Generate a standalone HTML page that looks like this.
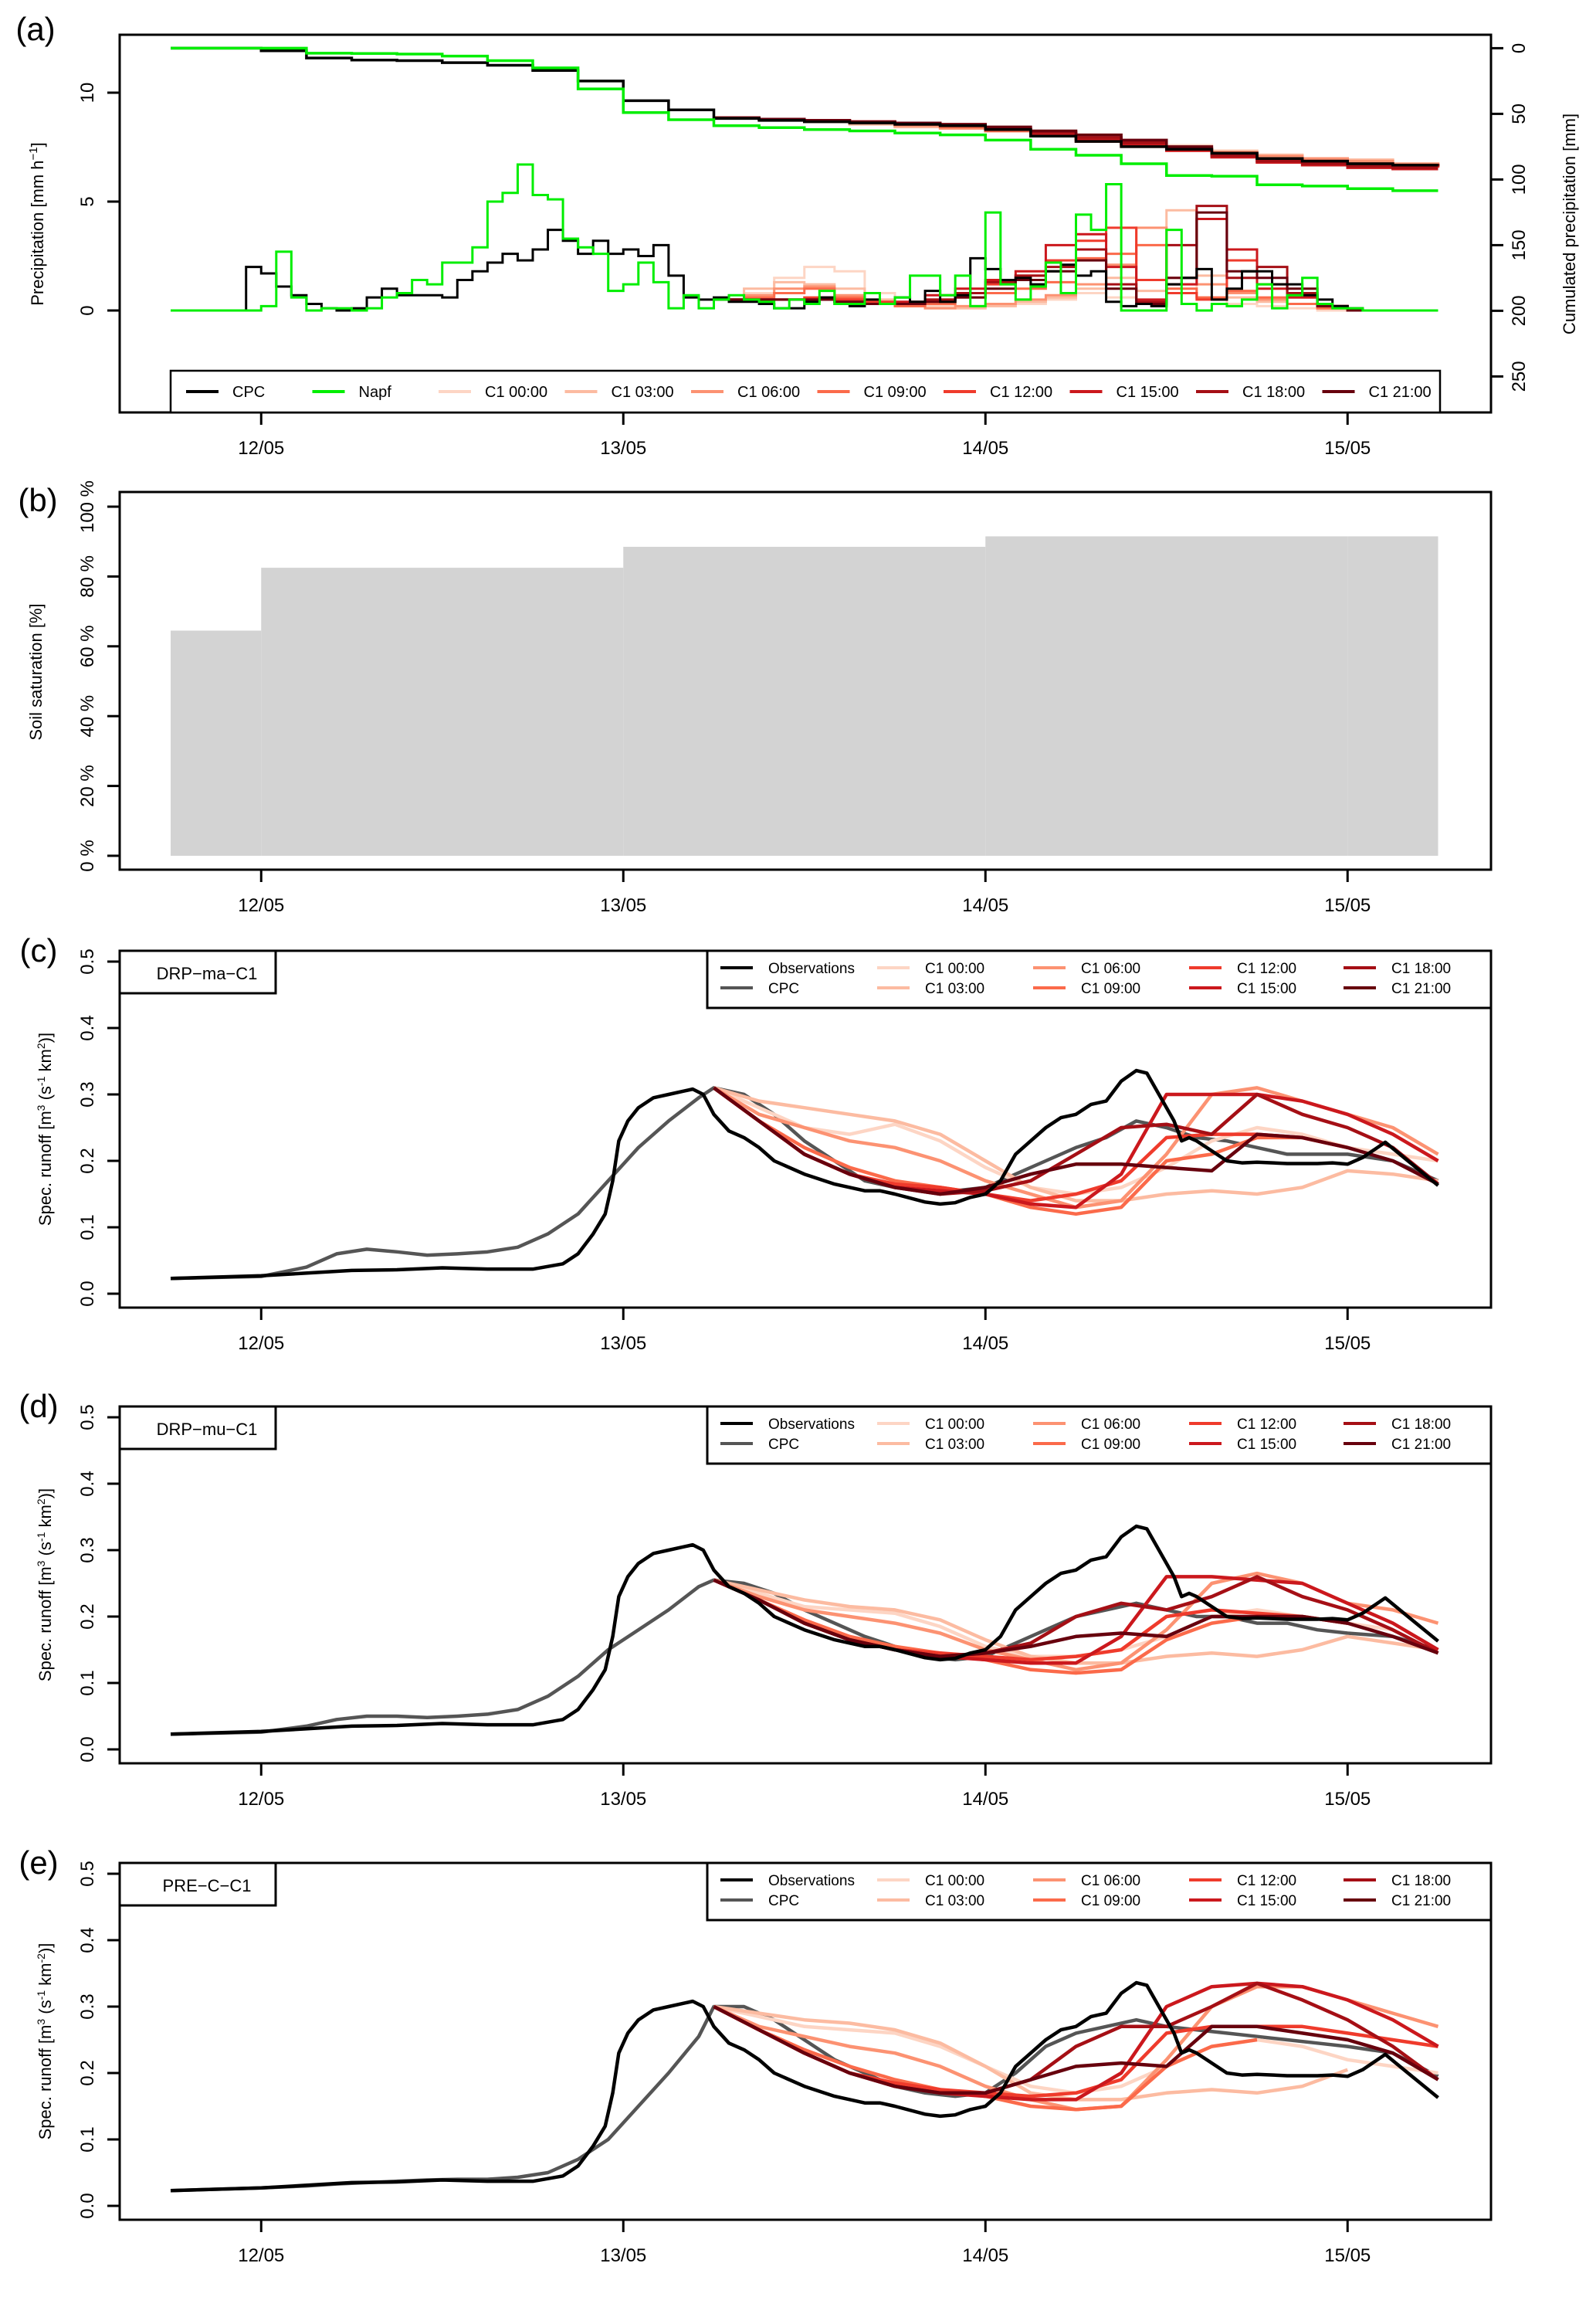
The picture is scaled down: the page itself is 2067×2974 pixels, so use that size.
<!DOCTYPE html>
<html><head><meta charset="utf-8"><title>Precipitation, soil saturation and runoff</title>
<style>html,body{margin:0;padding:0;background:#fff}svg{display:block}text{font-family:"Liberation Sans",sans-serif;fill:#000}</style>
</head><body>
<svg id="chart" xmlns="http://www.w3.org/2000/svg" width="2067" height="2974" viewBox="0 0 2067 2974"></svg>
<script>
// ===== DATA =====
const dayLabels = ["12/05","13/05","14/05","15/05"];
const seriesNames = ["C1 00:00","C1 03:00","C1 06:00","C1 09:00","C1 12:00","C1 15:00","C1 18:00","C1 21:00"];
const fcColors = ["#fdd5c4","#fcbba1","#fc9272","#fb6a4a","#ef3b2c","#cb181d","#a50f15","#67000d"];
// hourly precipitation [mm/h], hour 0 = 11/05 18:00
const cpcPrecip = [0,0,0,0,0,2.0,1.7,1.1,0.7,0.3,0.1,0,0.1,0.6,1.0,0.7,0.7,0.7,0.6,1.4,1.8,2.2,2.6,2.3,2.8,3.7,3.2,2.6,3.2,2.6,2.8,2.5,3.0,1.6,0.6,0.5,0.6,0.4,0.4,0.3,0.1,0.1,0.4,0.6,0.3,0.2,0.5,0.3,0.6,0.4,0.9,0.4,0.7,2.4,1.9,1.4,1.5,1.2,1.8,2.1,1.6,1.8,0.4,0.2,0.3,0.2,1.2,1.5,1.9,0.5,1.0,1.8,1.8,1.2,1.2,0.7,0.5,0.2,0.1,0,0,0,0,0];
const napfPrecip = [0,0,0,0,0,0,0.2,2.7,0.6,0,0.1,0.1,0,0.1,0.6,0.8,1.4,1.2,2.2,2.2,2.9,5.0,5.4,6.7,5.3,5.1,3.3,2.9,2.6,0.9,1.2,2.2,1.3,0.1,0.7,0.1,0.5,0.7,0.5,0.4,0.1,0.5,0.3,0.9,0.3,0.3,0.8,0.3,0.6,1.6,1.6,0.7,1.6,0.2,4.5,1.2,0.5,1.1,2.2,0.8,4.4,3.7,5.8,0,0,0,3.7,0.3,0,0.3,0.2,0.5,1.2,0.1,0.7,1.5,0.3,0.1,0.1,0,0,0,0,0];
// forecast precipitation, 2-hourly from hour 36
const fcPrecip = [
 [0.5,0.8,1.5,2.0,1.8,0.8,0.4,0.2,0.1,0.2,0.3,0.5,0.8,0.6,0.5,1.2,0.6,0.3,0.2,0.1,0,0],
 [0.5,1.0,1.3,1.2,1.0,0.5,0.3,0.1,0.1,0.2,0.4,0.6,1.0,1.5,0.9,4.6,1.6,0.6,0.4,0.3,0.1,0],
 [0.5,0.7,1.0,1.1,0.7,0.4,0.2,0.1,0.2,0.3,0.5,0.7,1.2,2.1,3.8,1.5,1.2,0.8,0.5,0.3,0.1,0],
 [0.5,0.6,0.8,1.0,0.6,0.3,0.2,0.3,0.6,0.8,1.0,1.3,2.4,2.6,3.0,1.0,0.6,0.9,0.6,0.3,0.1,0],
 [0.5,0.5,0.5,0.6,0.5,0.4,0.3,0.5,0.8,1.2,1.6,2.3,3.2,3.8,1.4,0.8,0.5,2.3,1.2,0.6,0.2,0],
 [0.5,0.5,0.5,0.5,0.4,0.3,0.4,0.7,1.0,1.4,1.8,3.0,3.5,2.0,0.5,1.2,4.2,2.8,1.0,0.6,0.2,0],
 [0.5,0.5,0.5,0.5,0.4,0.3,0.3,0.5,0.8,1.3,1.6,2.0,2.8,1.2,0.4,3.0,4.8,1.5,2.0,0.8,0.2,0],
 [0.5,0.5,0.5,0.5,0.4,0.3,0.3,0.4,0.6,1.0,1.4,1.8,2.3,1.0,0.3,1.5,4.5,1.8,1.5,1.0,0.2,0]
];
// cumulated precipitation [mm], 3-hourly from hour 0
const cpcCum = [0,0,2,7.5,9,9.5,11,13,17,25,40,47,53.5,55,56,57,58,59,62,67,71,75,77,80,84,86,88,89,89];
const napfCum = [0,0,0,3.8,4,4.5,6,9.5,15,31,49,54.5,59,60.5,62,63,64.6,66,70,77,81.5,88,97,97.5,104,105,107,108.5,108.5];
// forecast cumulated, 3-hourly from hour 36
const fcCum = [
 [53,54,55,56,57,58,60,63,66,70,74,78,81,84,86],
 [53,54,56,58,60,61,63,66,70,74,77,80,82,84,85,86],
 [53,54,55,57,59,61,63,66,69,73,76,79,82,84,86,88,89],
 [53,54,55,56,58,60,63,67,71,75,78,81,84,86,88,89,90],
 [53,54,55,56,57,59,62,66,70,74,77,81,84,87,89,90,91],
 [53,54,55,56,57,59,62,65,69,73,78,83,87,89,91,92,92],
 [53,54,55,56,57,58,61,64,68,72,77,82,86,88,90,91,91],
 [53,54,55,56,57,58,60,63,66,70,75,80,84,86,88,89,90]
];
// soil saturation [%]
const soilStartH = [0,6,30,54,78];
const soilEndH = [6,30,54,78,84];
const soilValues = [64.5,82.5,88.5,91.5,91.5];
// observed runoff (hour, value)
const obsT = [0,6,12,15,18,21,24,26,27,28,28.8,29.3,29.7,30.3,31,32,33,34,34.6,35.3,36,37,38,39,40,42,44,46,47,48,50,51,52,53,54,55,56,57,58,59,60,61,62,63,64,64.7,65.5,66.5,67,67.5,68,69,70,71,72,74,75,76,77,78,79,80.5,82,84];
const obsV = [0.023,0.027,0.035,0.036,0.039,0.037,0.037,0.045,0.06,0.09,0.12,0.17,0.23,0.26,0.28,0.295,0.30,0.305,0.308,0.30,0.27,0.245,0.235,0.22,0.20,0.18,0.165,0.155,0.155,0.15,0.138,0.135,0.137,0.145,0.15,0.17,0.21,0.23,0.25,0.265,0.27,0.285,0.29,0.32,0.336,0.332,0.30,0.26,0.23,0.235,0.23,0.215,0.20,0.197,0.198,0.196,0.196,0.196,0.197,0.195,0.205,0.228,0.20,0.163];
const cpcT = [0,6,9,11,13,15,17,19,21,23,25,27,29,31,33,35,36,38,40,42,44,46,48,50,52,54,56,58,60,62,64,66,68,70,72,74,76,78,81,84];
const cpcRunoffC = [0.023,0.026,0.04,0.06,0.067,0.063,0.058,0.06,0.063,0.07,0.09,0.12,0.17,0.22,0.26,0.295,0.31,0.30,0.27,0.23,0.20,0.17,0.16,0.155,0.155,0.16,0.18,0.2,0.22,0.235,0.26,0.25,0.235,0.23,0.22,0.21,0.21,0.21,0.2,0.17];
const cpcRunoffD = [0.023,0.026,0.035,0.045,0.05,0.05,0.048,0.05,0.053,0.06,0.08,0.11,0.15,0.18,0.21,0.245,0.255,0.25,0.235,0.21,0.19,0.17,0.155,0.14,0.135,0.14,0.16,0.18,0.2,0.21,0.22,0.21,0.2,0.2,0.19,0.19,0.18,0.175,0.17,0.15];
const cpcRunoffE = [0.023,0.027,0.03,0.033,0.035,0.037,0.039,0.04,0.04,0.043,0.05,0.07,0.1,0.15,0.2,0.255,0.3,0.3,0.28,0.25,0.22,0.2,0.18,0.17,0.165,0.17,0.2,0.24,0.26,0.27,0.28,0.27,0.265,0.26,0.255,0.25,0.245,0.24,0.23,0.195];
// forecast runoff, 3-hourly from hour 36
const fcRunoffC = [
 [0.31,0.28,0.25,0.24,0.255,0.23,0.19,0.16,0.15,0.16,0.19,0.23,0.25,0.24,0.22,0.21,0.2],
 [0.31,0.29,0.28,0.27,0.26,0.24,0.2,0.16,0.14,0.14,0.15,0.155,0.15,0.16,0.185,0.18,0.17],
 [0.31,0.27,0.25,0.23,0.22,0.2,0.17,0.15,0.13,0.14,0.21,0.3,0.31,0.29,0.27,0.25,0.21],
 [0.31,0.26,0.22,0.19,0.17,0.16,0.15,0.13,0.12,0.13,0.2,0.21,0.235,0.235,0.22],
 [0.31,0.26,0.21,0.18,0.165,0.16,0.15,0.14,0.15,0.17,0.235,0.24,0.24,0.235,0.22],
 [0.31,0.26,0.21,0.18,0.16,0.155,0.15,0.135,0.13,0.18,0.3,0.3,0.3,0.29,0.27,0.24,0.2],
 [0.31,0.26,0.21,0.18,0.16,0.15,0.155,0.17,0.21,0.25,0.255,0.24,0.3,0.27,0.25,0.22,0.165],
 [0.31,0.26,0.21,0.18,0.16,0.15,0.16,0.18,0.195,0.195,0.19,0.185,0.24,0.235,0.22,0.2,0.165]
];
const fcRunoffD = [
 [0.255,0.235,0.215,0.21,0.205,0.185,0.155,0.14,0.14,0.15,0.17,0.2,0.21,0.2,0.19,0.18],
 [0.255,0.24,0.225,0.215,0.21,0.195,0.165,0.14,0.13,0.13,0.14,0.145,0.14,0.15,0.17,0.16,0.15],
 [0.255,0.23,0.21,0.2,0.19,0.175,0.15,0.135,0.12,0.13,0.18,0.25,0.265,0.25,0.22,0.21,0.19],
 [0.255,0.225,0.195,0.17,0.155,0.145,0.135,0.12,0.115,0.12,0.165,0.19,0.2,0.2,0.19],
 [0.255,0.225,0.19,0.165,0.15,0.145,0.14,0.135,0.14,0.15,0.2,0.21,0.205,0.2,0.19],
 [0.255,0.225,0.19,0.165,0.15,0.14,0.135,0.13,0.13,0.17,0.26,0.26,0.255,0.25,0.22,0.19,0.15],
 [0.255,0.225,0.19,0.165,0.15,0.14,0.145,0.16,0.2,0.22,0.21,0.23,0.26,0.23,0.21,0.18,0.145],
 [0.255,0.225,0.19,0.165,0.15,0.14,0.145,0.155,0.17,0.175,0.17,0.2,0.2,0.2,0.19,0.17,0.145]
];
const fcRunoffE = [
 [0.30,0.285,0.27,0.265,0.26,0.24,0.21,0.18,0.17,0.18,0.21,0.24,0.25,0.24,0.22,0.21,0.20],
 [0.30,0.29,0.28,0.275,0.265,0.245,0.21,0.17,0.16,0.16,0.17,0.175,0.17,0.18,0.205],
 [0.30,0.27,0.255,0.24,0.23,0.21,0.18,0.16,0.145,0.15,0.22,0.30,0.33,0.33,0.31,0.29,0.27],
 [0.30,0.265,0.235,0.21,0.19,0.175,0.165,0.15,0.145,0.15,0.21,0.24,0.25],
 [0.30,0.265,0.23,0.2,0.185,0.175,0.17,0.165,0.17,0.19,0.26,0.27,0.27,0.27,0.26,0.25,0.24],
 [0.30,0.265,0.23,0.2,0.18,0.17,0.165,0.16,0.16,0.2,0.30,0.33,0.335,0.33,0.31,0.28,0.24],
 [0.30,0.265,0.23,0.2,0.18,0.17,0.17,0.19,0.24,0.27,0.27,0.30,0.335,0.31,0.28,0.24,0.19],
 [0.30,0.265,0.23,0.2,0.18,0.17,0.17,0.19,0.21,0.215,0.21,0.27,0.27,0.26,0.25,0.23,0.19]
];
const precipTicks = [0,5,10];
const cumTicks = [0,50,100,150,200,250];
const soilTicks = [0,20,40,60,80,100];
const runoffTicks = [0,0.1,0.2,0.3,0.4,0.5];

// ===== DRAWING =====
const NS = "http://www.w3.org/2000/svg";
const svg = document.getElementById("chart");
function mk(tag, attrs, parent, txt) {
  const e = document.createElementNS(NS, tag);
  for (const k in attrs) e.setAttribute(k, attrs[k]);
  if (txt !== undefined) e.textContent = txt;
  (parent || svg).appendChild(e);
  return e;
}
const X = h => 221 + h * 469 / 24;
const L = 155, R = 1931;

function frame(top, bottom, name) {
  const g = mk("g", {});
  
  
  const r = mk("rect", {x: L, y: top, width: R - L, height: bottom - top, fill: "none", stroke: "#000", "stroke-width": 3}, g);
  
  
  dayLabels.forEach((d, i) => {
    const x = X(6 + 24 * i);
    const t = mk("line", {x1: x, x2: x, y1: bottom, y2: bottom + 16, stroke: "#000", "stroke-width": 3}, g);
    
    
    const lb = mk("text", {x: x, y: bottom + 54, "font-size": 24, "text-anchor": "middle"}, g, d);
    
    
  });
  return g;
}
function yTicks(g, ticks, yf, fmt, side) {
  ticks.forEach(v => {
    const y = yf(v);
    const x1 = side === "right" ? R : L - 16, x2 = side === "right" ? R + 16 : L;
    const t = mk("line", {x1: x1, x2: x2, y1: y, y2: y, stroke: "#000", "stroke-width": 3}, g);
    
    
    const tx = side === "right" ? 1975 : 121;
    const lb = mk("text", {x: tx, y: y, "font-size": 24, "text-anchor": "middle", transform: `rotate(-90 ${tx} ${y})`}, g, fmt(v));
    
    
  });
}
function panelLabel(txt, x, y) {
  const t = mk("text", {x: x, y: y, "font-size": 42, "text-anchor": "middle"}, svg, txt);
  
  
}
function rotTitle(g, x, y, html, name) {
  const t = mk("text", {x: x, y: y, "font-size": 22, "text-anchor": "middle", transform: `rotate(-90 ${x} ${y})`}, g);
  t.innerHTML = html;
  
  
}
function stepPath(startH, stepH, vals, yf) {
  let d = "";
  vals.forEach((v, i) => {
    const x0 = X(startH + i * stepH), x1 = X(startH + (i + 1) * stepH), y = yf(v);
    d += (i === 0 ? `M${x0},${y}` : `L${x0},${y}`) + `L${x1},${y}`;
  });
  return d;
}
function cumPath(startH, stepH, vals, yf) {
  let d = "";
  vals.forEach((v, i) => {
    const x = X(startH + i * stepH), y = yf(v);
    if (i === 0) d += `M${x},${y}`;
    else d += `L${x},${yf(vals[i - 1])}L${x},${y}`;
  });
  return d;
}
function linePath(ts, vs, yf) {
  return vs.map((v, i) => (i ? "L" : "M") + X(ts[i]) + "," + yf(v)).join("");
}

// ---- Panel (a)
panelLabel("(a)", 46, 52);
const yP = v => 402 - 28.2 * v;
const yC = mm => 62.4 + 1.70 * mm;
const ga = frame(45, 534, "panel-a-precipitation");
yTicks(ga, precipTicks, yP, v => String(v), "left");
yTicks(ga, cumTicks, yC, v => String(v), "right");
rotTitle(ga, 56, 290, 'Precipitation [mm h<tspan baseline-shift="super" font-size="15">−1</tspan>]', "y-axis-title-left");
rotTitle(ga, 2040, 290, 'Cumulated precipitation [mm]', "y-axis-title-right");
// forecasts first (under observations)
fcPrecip.forEach((s, i) => {
  const p = mk("path", {d: stepPath(36, 2, s, yP), fill: "none", stroke: fcColors[i], "stroke-width": 3}, ga);
  
  
});
fcCum.forEach((s, i) => {
  const p = mk("path", {d: cumPath(36, 3, s, yC), fill: "none", stroke: fcColors[i], "stroke-width": 3.5}, ga);
  
  
});
[[cpcPrecip, "#000", "cpc-precip"], [napfPrecip, "#00ee00", "napf-precip"]].forEach(([s, c, n]) => {
  const p = mk("path", {d: stepPath(0, 1, s, yP), fill: "none", stroke: c, "stroke-width": 3}, ga);
  
  
});
[[cpcCum, "#000", "cpc-cumulated"], [napfCum, "#00ee00", "napf-cumulated"]].forEach(([s, c, n]) => {
  const p = mk("path", {d: cumPath(0, 3, s, yC), fill: "none", stroke: c, "stroke-width": 3.5}, ga);
  
  
});
// legend a
const lga = mk("g", {}, ga);


mk("rect", {x: 221, y: 480, width: 1644, height: 54, fill: "#fff", stroke: "#000", "stroke-width": 2.5}, lga);
const legANames = ["CPC", "Napf"].concat(seriesNames);
const legAColors = ["#000", "#00ee00"].concat(fcColors);
legANames.forEach((n, i) => {
  const x = 241 + i * 163.5;
  const e = mk("g", {}, lga);
  
  
  mk("line", {x1: x, x2: x + 42, y1: 507, y2: 507, stroke: legAColors[i], "stroke-width": 4}, e);
  mk("text", {x: x + 60, y: 514, "font-size": 20}, e, n);
});

// ---- Panel (b)
panelLabel("(b)", 49, 662);
const yS = p => 1108 - 4.52 * p;
const gb = frame(637, 1126, "panel-b-soil-saturation");
soilValues.forEach((v, i) => {
  const r = mk("rect", {x: X(soilStartH[i]), y: yS(v), width: X(soilEndH[i]) - X(soilStartH[i]), height: yS(0) - yS(v), fill: "#d3d3d3"}, gb);
  
  
});
yTicks(gb, soilTicks, yS, v => v + " %", "left");
rotTitle(gb, 54, 870, 'Soil saturation [%]', "y-axis-title");

// ---- Runoff panels
const runoffPanels = [
  {lab: "(c)", name: "DRP−ma−C1", top: 1231, cpc: cpcRunoffC, fc: fcRunoffC, unit: '(s<tspan baseline-shift="super" font-size="14">-1</tspan> km<tspan baseline-shift="super" font-size="14">2</tspan>)]'},
  {lab: "(d)", name: "DRP−mu−C1", top: 1821, cpc: cpcRunoffD, fc: fcRunoffD, unit: '(s<tspan baseline-shift="super" font-size="14">-1</tspan> km<tspan baseline-shift="super" font-size="14">2</tspan>)]'},
  {lab: "(e)", name: "PRE−C−C1", top: 2412, cpc: cpcRunoffE, fc: fcRunoffE, unit: '(s<tspan baseline-shift="super" font-size="14">-1</tspan> km<tspan baseline-shift="super" font-size="14">-2</tspan>)]'}
];
const legRNames = [["Observations", "CPC"], ["C1 00:00", "C1 03:00"], ["C1 06:00", "C1 09:00"], ["C1 12:00", "C1 15:00"], ["C1 18:00", "C1 21:00"]];
const legRColors = [["#000", "#555"], [fcColors[0], fcColors[1]], [fcColors[2], fcColors[3]], [fcColors[4], fcColors[5]], [fcColors[6], fcColors[7]]];
const legRX = [933, 1136, 1338, 1540, 1740];
runoffPanels.forEach((P, pi) => {
  const top = P.top, bottom = top + 462, base = top + 444;
  const yR = v => base - 860 * v;
  panelLabel(P.lab, 50, top + 14);
  const g = frame(top, bottom, "panel-" + "cde"[pi] + "-runoff");
  yTicks(g, runoffTicks, yR, v => v.toFixed(1), "left");
  rotTitle(g, 66, top + 231, 'Spec. runoff [m<tspan baseline-shift="super" font-size="14">3</tspan>  ' + P.unit, "y-axis-title");
  const cp = mk("path", {d: linePath(cpcT, P.cpc, yR), fill: "none", stroke: "#555", "stroke-width": 4.5, "stroke-linejoin": "round"}, g);
  
  
  P.fc.forEach((s, i) => {
    const ts = s.map((_, k) => 36 + 3 * k);
    const p = mk("path", {d: linePath(ts, s, yR), fill: "none", stroke: fcColors[i], "stroke-width": 4.5, "stroke-linejoin": "round"}, g);
    
    
  });
  const ob = mk("path", {d: linePath(obsT, obsV, yR), fill: "none", stroke: "#000", "stroke-width": 4.5, "stroke-linejoin": "round"}, g);
  
  
  // catchment label box
  const lb = mk("g", {}, g);
  
  
  mk("rect", {x: L, y: top, width: 202, height: 55, fill: "#fff", stroke: "#000", "stroke-width": 3}, lb);
  mk("text", {x: 268, y: top + 37, "font-size": 22, "text-anchor": "middle"}, lb, P.name);
  // legend
  const lg = mk("g", {}, g);
  
  
  mk("rect", {x: 916, y: top, width: 1015, height: 74, fill: "#fff", stroke: "#000", "stroke-width": 3}, lg);
  legRNames.forEach((col, c) => col.forEach((n, r) => {
    const y = top + 22 + r * 26;
    const e = mk("g", {}, lg);
    
    
    mk("line", {x1: legRX[c], x2: legRX[c] + 42, y1: y, y2: y, stroke: legRColors[c][r], "stroke-width": 4}, e);
    mk("text", {x: legRX[c] + 62, y: y + 7, "font-size": 19}, e, n);
  }));
});
</script>
</body></html>
